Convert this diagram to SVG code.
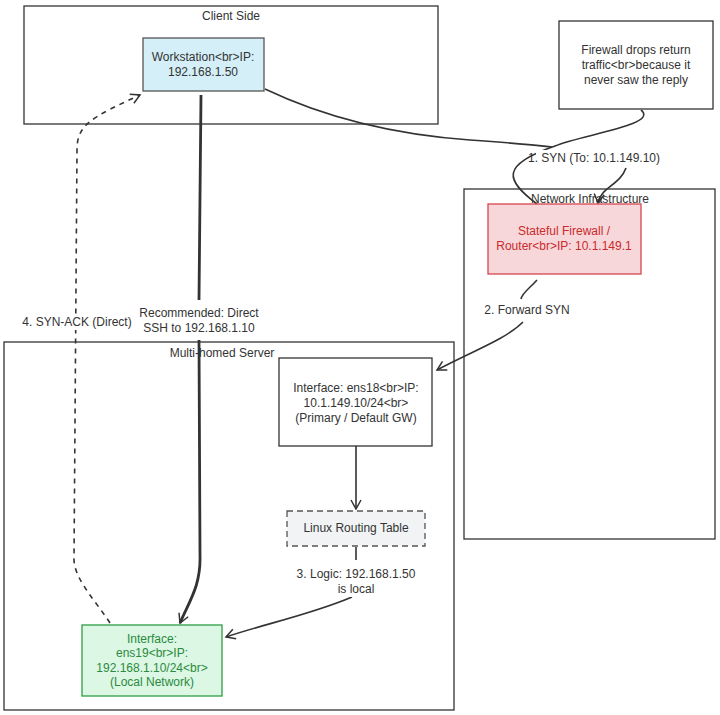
<svg xmlns="http://www.w3.org/2000/svg" width="720" height="715" viewBox="0 0 720 715">
<defs>
<style>
text{font-family:"Liberation Sans","DejaVu Sans",sans-serif;font-size:12px;fill:#333;text-anchor:middle}
.grp{fill:#fff;stroke:#333;stroke-width:1.3}
.node{stroke-width:1.3}
.edge{fill:none;stroke:#333;stroke-width:1.6}
.lblbg{fill:#fff}
</style>
<marker id="arr" markerWidth="12" markerHeight="12" refX="10" refY="6" orient="auto" markerUnits="userSpaceOnUse">
<path d="M1,1 L10,6 L1,11" fill="none" stroke="#333" stroke-width="1.5"/>
</marker>
</defs>
<rect width="720" height="715" fill="#fff"/>

<g id="client-side">
<rect class="grp" x="24" y="6" width="414" height="118"/>
<text x="231" y="20">Client Side</text>
</g>
<g id="network-infrastructure">
<rect class="grp" x="464" y="189" width="251" height="350"/>
<text x="590" y="203">Network Infrastructure</text>
</g>
<g id="multi-homed-server">
<rect class="grp" x="4" y="342" width="450" height="368"/>
<text x="222" y="357">Multi-homed Server</text>
</g>

<g id="connectors">
<path class="edge" d="M265,89 C330,120 400,135 470,140 S540,146 552,147"/>
<path class="edge" d="M626,168 C620,185 600,188 598,203" marker-end="url(#arr)"/>
<path class="edge" d="M641,110 C660,125 580,135 555,146 C500,165 505,180 537,204"/>
<path class="edge" d="M537,280 C530,288 522,293 521,299"/>
<path class="edge" d="M523,322 C505,340 470,352 437,370" marker-end="url(#arr)"/>
<path class="edge" d="M356,446 L356,509" marker-end="url(#arr)"/>
<path class="edge" d="M356,547 L356,560"/>
<path class="edge" d="M352,597 C310,615 260,625 226,637" marker-end="url(#arr)"/>
<path class="edge" d="M201,95 L199,300 M199,340 L200,555 C201,585 190,600 180,623" style="stroke-width:2.8" marker-end="url(#arr)"/>
<path class="edge" d="M110,623 C95,600 75,580 74,560 L77,150 C77,125 90,118 140,95" style="stroke-dasharray:5,5" marker-end="url(#arr)"/>
<rect class="lblbg" x="536" y="150" width="144" height="16"/>
<text x="594" y="162">1. SYN (To: 10.1.149.10)</text>
<rect class="lblbg" x="474" y="302" width="106" height="16"/>
<text x="527" y="314">2. Forward SYN</text>
<rect class="lblbg" x="290" y="566" width="132" height="31"/>
<text x="356" y="578">3. Logic: 192.168.1.50</text>
<text x="356" y="593">is local</text>
<rect class="lblbg" x="18" y="314" width="118" height="16"/>
<text x="77" y="326">4. SYN-ACK (Direct)</text>
<rect class="lblbg" x="134" y="304" width="130" height="31"/>
<text x="199" y="317">Recommended: Direct</text>
<text x="199" y="332">SSH to 192.168.1.10</text>
</g>

<g id="workstation">
<rect class="node" x="143" y="38" width="121" height="53" fill="#d5eff9" stroke="#555"/>
<text x="203" y="61">Workstation&lt;br&gt;IP:</text>
<text x="203" y="76">192.168.1.50</text>
</g>
<g id="firewall-note">
<rect class="node" x="559" y="21" width="154" height="88" fill="#fff" stroke="#333"/>
<text x="636" y="54">Firewall drops return</text>
<text x="636" y="69">traffic&lt;br&gt;because it</text>
<text x="636" y="84">never saw the reply</text>
</g>
<g id="stateful-firewall">
<rect class="node" x="488" y="204" width="153" height="70" fill="#f8d7da" stroke="#d6454f"/>
<text x="564" y="235" style="fill:#c92a2a">Stateful Firewall /</text>
<text x="564" y="250" style="fill:#c92a2a">Router&lt;br&gt;IP: 10.1.149.1</text>
</g>
<g id="ens18">
<rect class="node" x="279" y="358" width="153" height="88" fill="#fff" stroke="#333"/>
<text x="356" y="392">Interface: ens18&lt;br&gt;IP:</text>
<text x="356" y="407">10.1.149.10/24&lt;br&gt;</text>
<text x="356" y="422">(Primary / Default GW)</text>
</g>
<g id="routing-table">
<rect class="node" x="287" y="511" width="138" height="35" fill="#f1f3f5" stroke="#555" stroke-dasharray="6,4"/>
<text x="356" y="532">Linux Routing Table</text>
</g>
<g id="ens19">
<rect class="node" x="82" y="625" width="140" height="71" fill="#dcf7e4" stroke="#2f9e44"/>
<text x="152" y="643" style="fill:#2b8a3e">Interface:</text>
<text x="152" y="657" style="fill:#2b8a3e">ens19&lt;br&gt;IP:</text>
<text x="152" y="672" style="fill:#2b8a3e">192.168.1.10/24&lt;br&gt;</text>
<text x="152" y="686" style="fill:#2b8a3e">(Local Network)</text>
</g>
</svg>
